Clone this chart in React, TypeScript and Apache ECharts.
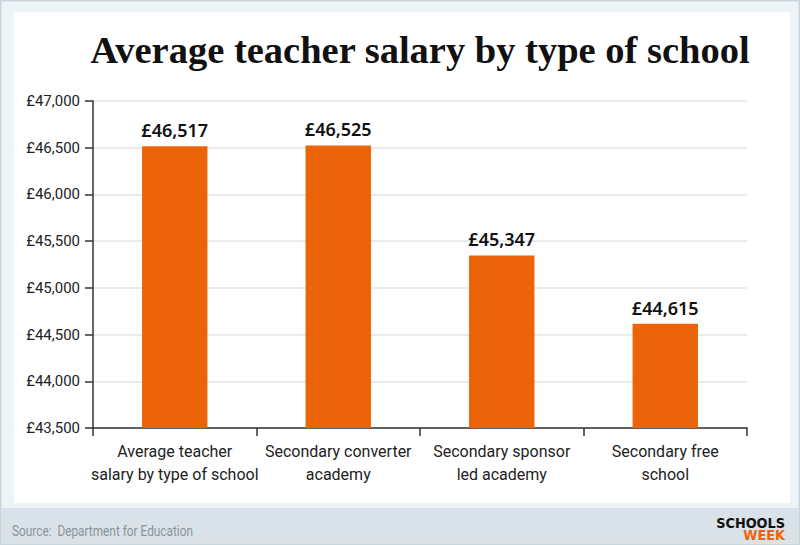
import React, { useEffect, useRef } from "react";
import * as echarts from "echarts";

const categories = [
  "Average teacher\nsalary by type of school",
  "Secondary converter\nacademy",
  "Secondary sponsor\nled academy",
  "Secondary free\nschool",
];
const salaries = [46517, 46525, 45347, 44615];
const titleText = "Average teacher salary by type of school";
const sourceText = "Source:  Department for Education";
const yMin = 43500;
const yMax = 47000;
const yStep = 500;

const condensed = '"Roboto", sans-serif';

export default function App() {
  const ref = useRef<HTMLDivElement>(null);
  useEffect(() => {
    if (!ref.current) return;
    const chart = echarts.init(ref.current, null, { renderer: "svg" });
    chart.setOption({
      animation: false,
      backgroundColor: "#eef3f6",
      graphic: [
        { type: "rect", shape: { x: 0.75, y: 0.75, width: 798.5, height: 543.5 }, style: { fill: "none", stroke: "#c9d5dd", lineWidth: 1.5 }, z: -10 },
        { type: "rect", shape: { x: 14, y: 12, width: 776, height: 491 }, style: { fill: "#ffffff" }, z: -9 },
        { type: "rect", shape: { x: 1.5, y: 508, width: 797, height: 35 }, style: { fill: "#d9e2e8" }, z: -9 },
        {
          type: "text", x: 12, y: 530, scaleX: 0.79,
          style: { text: sourceText, fill: "#8a949b", font: `15px ${condensed}`, textVerticalAlign: "middle" },
        },
        {
          type: "text", x: 785, y: 523, scaleX: 0.92,
          style: { text: "SCHOOLS", fill: "#111111", font: `900 14px "DejaVu Sans", sans-serif`, textAlign: "right", textVerticalAlign: "middle" },
        },
        {
          type: "text", x: 785, y: 535.5, scaleX: 0.92,
          style: { text: "WEEK", fill: "#ec6409", font: `900 14px "DejaVu Sans", sans-serif`, textAlign: "right", textVerticalAlign: "middle" },
        },
      ],
      title: {
        text: titleText,
        left: 415,
        top: 25,
        textAlign: "center",
        textStyle: { fontFamily: '"Liberation Serif", serif', fontWeight: "bold", fontSize: 38.5, color: "#111111" },
      },
      grid: { left: 93, right: 53, top: 101, bottom: 117, containLabel: false },
      xAxis: {
        type: "category",
        data: categories,
        axisLine: { lineStyle: { color: "#333333", width: 1.5 } },
        axisTick: { show: true, alignWithLabel: false, length: 8, lineStyle: { color: "#333333", width: 1.5 } },
        axisLabel: { color: "#222222", fontFamily: condensed, fontSize: 16, lineHeight: 23, margin: 12, interval: 0 },
      },
      yAxis: {
        type: "value",
        min: yMin,
        max: yMax,
        interval: yStep,
        axisLine: { show: true, lineStyle: { color: "#333333", width: 1.5 } },
        axisTick: { show: true, length: 8, lineStyle: { color: "#333333", width: 1.5 } },
        splitLine: { lineStyle: { color: "#e4e4e4", width: 1.5 } },
        axisLabel: {
          color: "#222222", fontFamily: condensed, fontSize: 15, margin: 13,
          formatter: (v: number) => "£" + v.toLocaleString("en-GB"),
        },
      },
      series: [
        {
          type: "bar",
          data: salaries,
          barWidth: "40%",
          itemStyle: { color: "#ec6409" },
          label: {
            show: true,
            position: "top",
            distance: 7,
            color: "#111111",
            fontFamily: '"Noto Sans", sans-serif',
            fontWeight: 600,
            fontSize: 18,
            formatter: (p: any) => "£" + Number(p.value).toLocaleString("en-GB"),
          },
        },
      ],
    });
    return () => chart.dispose();
  }, []);
  return <div ref={ref} style={{ position: "fixed", left: 0, top: 0, width: 800, height: 545 }} />;
}
